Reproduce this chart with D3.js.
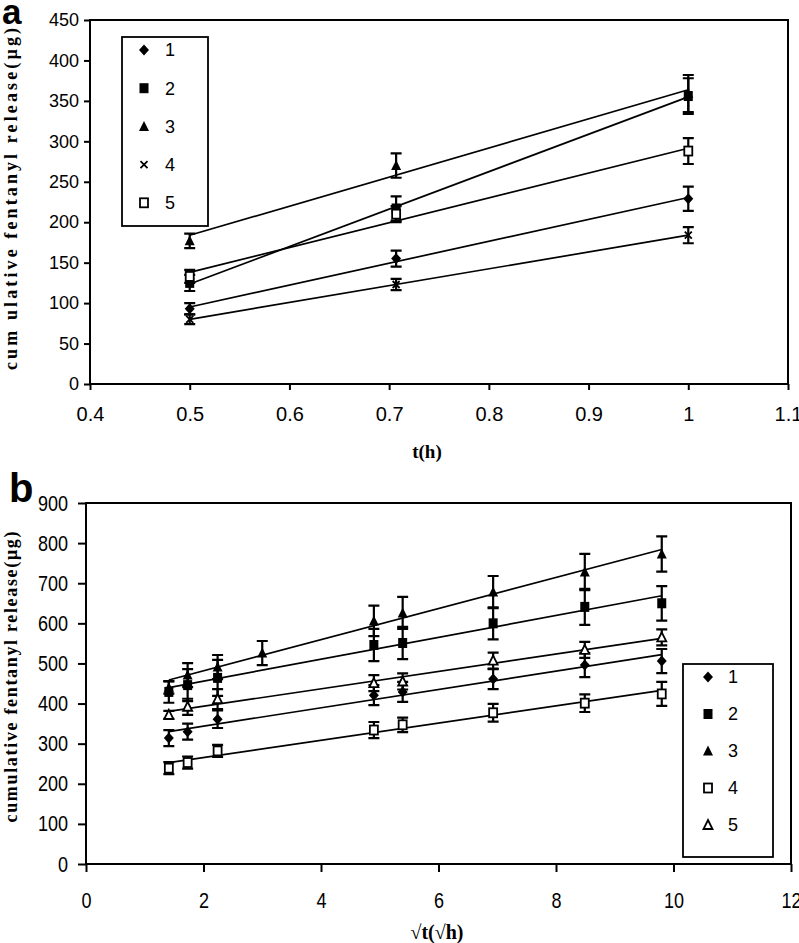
<!DOCTYPE html>
<html><head><meta charset="utf-8">
<script src="https://cdn.jsdelivr.net/npm/d3@7/dist/d3.min.js"></script>
<style>
html,body{margin:0;padding:0;background:#fff;}
svg{display:block;}
</style></head>
<body>
<script>
// ---------- Panel a data ----------
const tA = [0.5, 0.707, 1];
const a1 = [93, 155, 229];   const a1Err = [7, 10, 15];
const a2 = [125, 217, 356];  const a2Err = [10, 15, 22];
const a3 = [177, 270, 359];  const a3Err = [9, 15, 23];
const a4 = [80, 123, 184];   const a4Err = [6, 7, 10];
const a5 = [133, 210, 288];  const a5Err = [8, 10, 16];
const aLabels = ["1", "2", "3", "4", "5"];
const aXTicks = [0.4, 0.5, 0.6, 0.7, 0.8, 0.9, 1, 1.1];
const aXTickLabels = ["0.4", "0.5", "0.6", "0.7", "0.8", "0.9", "1", "1.1"];
const aYTicks = [0, 50, 100, 150, 200, 250, 300, 350, 400, 450];

// ---------- Panel b data ----------
const tB = [1.41, 1.73, 2.24, 3.0, 4.9, 5.39, 6.93, 8.49, 9.8];
const b1 = [314, 330, 361, null, 421, 429, 461, 496, 506];
const b1Err = [20, 20, 22, null, 25, 25, 25, 30, 30];
const b2 = [429, 446, 464, null, 546, 551, 600, 641, 650];
const b2Err = [27, 40, 45, null, 40, 40, 40, 45, 43];
const b3 = [440, 471, 491, 526, 606, 626, 678, 728, 773];
const b3Err = [15, 30, 30, 30, 38, 40, 40, 45, 44];
const b4 = [239, 253, 282, null, 334, 347, 377, 401, 424];
const b4Err = [15, 15, 15, null, 20, 18, 22, 22, 30];
const b5 = [372, 392, 411, null, 451, 455, 507, 534, 565];
const b5Err = [10, 20, 25, null, 20, 20, 20, 20, 20];
const bLabels = ["1", "2", "3", "4", "5"];
const bXTicks = [0, 2, 4, 6, 8, 10, 12];
const bYTicks = [0, 100, 200, 300, 400, 500, 600, 700, 800, 900];

const W = 799, H = 943;
const svg = d3.select("body").append("svg").attr("width", W).attr("height", H);

function marker(g, type, x, y) {
  if (type === "diamond") {
    const s = 5;
    g.append("path").attr("d", `M${x},${y-s-0.5}L${x+s},${y}L${x},${y+s+0.5}L${x-s},${y}Z`).attr("fill", "#000");
  } else if (type === "square") {
    g.append("rect").attr("x", x-4.5).attr("y", y-5).attr("width", 9).attr("height", 10).attr("fill", "#000");
  } else if (type === "triangle") {
    g.append("path").attr("d", `M${x},${y-5.5}L${x+5},${y+4.5}L${x-5},${y+4.5}Z`).attr("fill", "#000");
  } else if (type === "x") {
    g.append("path").attr("d", `M${x-3.5},${y-3.5}L${x+3.5},${y+3.5}M${x-3.5},${y+3.5}L${x+3.5},${y-3.5}`).attr("stroke", "#000").attr("stroke-width", 1.8);
  } else if (type === "osquare") {
    g.append("rect").attr("x", x-4).attr("y", y-4.5).attr("width", 8).attr("height", 9).attr("fill", "#fff").attr("stroke", "#000").attr("stroke-width", 1.8);
  } else if (type === "otriangle") {
    g.append("path").attr("d", `M${x},${y-5}L${x+4.5},${y+4}L${x-4.5},${y+4}Z`).attr("fill", "#fff").attr("stroke", "#000").attr("stroke-width", 1.8);
  }
}

function fit(xs, ys) {
  const pts = xs.map((x, i) => [x, ys[i]]).filter(p => p[1] != null);
  const mx = d3.mean(pts, p => p[0]), my = d3.mean(pts, p => p[1]);
  const sxx = d3.sum(pts, p => (p[0]-mx)*(p[0]-mx));
  const sxy = d3.sum(pts, p => (p[0]-mx)*(p[1]-my));
  const k = sxy / sxx, b = my - k*mx;
  const x0 = d3.min(pts, p => p[0]), x1 = d3.max(pts, p => p[0]);
  return [[x0, k*x0 + b], [x1, k*x1 + b]];
}

function drawPanel(cfg) {
  const g = svg.append("g");
  const { x, y } = cfg;
  const yAxis = d3.axisLeft(y).tickValues(cfg.yTicks).tickSize(cfg.tick).tickPadding(cfg.yPad).tickFormat(d3.format("d"));
  const xAxis = d3.axisBottom(x).tickValues(cfg.xTicks).tickSize(cfg.tick).tickPadding(cfg.xPad).tickFormat((d, i) => cfg.xLabels[i]);
  const ga = g.append("g").attr("transform", `translate(${x.range()[0]},0)`).call(yAxis);
  const gb = g.append("g").attr("transform", `translate(0,${y.range()[0]})`).call(xAxis);
  [ga, gb].forEach(a => {
    a.select(".domain").remove();
    a.selectAll(".tick line").attr("stroke", "#000").attr("stroke-width", 2);
    a.selectAll(".tick text").attr("fill", "#000").style("font-family", cfg.tickFont).style("font-weight", cfg.tickWeight);
  });
  ga.selectAll(".tick text").style("font-size", cfg.yTickSize + "px");
  gb.selectAll(".tick text").style("font-size", cfg.xTickSize + "px");
  if (cfg.squeeze !== 1) {
    const k = cfg.squeeze;
    ga.selectAll(".tick text").attr("x", -(cfg.tick + cfg.yPad) / k).attr("transform", `scale(${k},1)`);
    gb.selectAll(".tick text").attr("transform", `scale(${k},1)`);
  }
  // frame
  g.append("rect").attr("x", x.range()[0]).attr("y", y.range()[1])
    .attr("width", x.range()[1] - x.range()[0]).attr("height", y.range()[0] - y.range()[1])
    .attr("fill", "none").attr("stroke", "#000").attr("stroke-width", 2);
  // trend lines
  cfg.series.forEach(s => {
    const f = fit(cfg.t, s.v);
    g.append("line").attr("x1", x(f[0][0])).attr("y1", y(f[0][1])).attr("x2", x(f[1][0])).attr("y2", y(f[1][1]))
      .attr("stroke", "#000").attr("stroke-width", 1.7);
  });
  // error bars
  cfg.series.forEach(s => {
    cfg.t.forEach((tv, i) => {
      if (s.v[i] == null) return;
      const cx = x(tv), hi = y(s.v[i] + s.e[i]), lo = y(s.v[i] - s.e[i]);
      g.append("path").attr("d", `M${cx},${hi}L${cx},${lo}M${cx-5.5},${hi}L${cx+5.5},${hi}M${cx-5.5},${lo}L${cx+5.5},${lo}`)
        .attr("stroke", "#000").attr("stroke-width", 2.2).attr("fill", "none");
    });
  });
  // markers
  cfg.series.forEach(s => {
    cfg.t.forEach((tv, i) => {
      if (s.v[i] == null) return;
      marker(g, s.m, x(tv), y(s.v[i]));
    });
  });
  // legend
  const L = cfg.legend;
  g.append("rect").attr("x", L.x).attr("y", L.y).attr("width", L.w).attr("height", L.h)
    .attr("fill", "#fff").attr("stroke", "#000").attr("stroke-width", 1.8);
  cfg.series.forEach((s, i) => {
    const yy = L.y0 + i * L.dy;
    marker(g, s.m, L.mx, yy);
    g.append("text").attr("x", L.tx).attr("y", yy).attr("dy", "0.36em").text(cfg.labels[i])
      .style("font-family", "'Liberation Sans', Arial, sans-serif").style("font-size", L.fs + "px");
  });
}

// Panel a
const xA = d3.scaleLinear().domain([0.4, 1.1]).range([90, 788]);
const yA = d3.scaleLinear().domain([0, 450]).range([384, 20]);
drawPanel({
  x: xA, y: yA, t: tA, tick: 6,
  yTicks: aYTicks, xTicks: aXTicks, xLabels: aXTickLabels,
  yPad: 5, xPad: 17, tickFont: "'Liberation Sans', Arial, sans-serif", tickWeight: "normal",
  yTickSize: 18, xTickSize: 20, squeeze: 1,
  series: [
    { v: a1, e: a1Err, m: "diamond" },
    { v: a2, e: a2Err, m: "square" },
    { v: a3, e: a3Err, m: "triangle" },
    { v: a4, e: a4Err, m: "x" },
    { v: a5, e: a5Err, m: "osquare" }
  ],
  labels: aLabels,
  legend: { x: 122, y: 37, w: 86, h: 189, y0: 50, dy: 38.2, mx: 144, tx: 165, fs: 18 }
});

// Panel b
const xB = d3.scaleLinear().domain([0, 12]).range([86, 791]);
const yB = d3.scaleLinear().domain([0, 900]).range([864, 503]);
drawPanel({
  x: xB, y: yB, t: tB, tick: 8,
  yTicks: bYTicks, xTicks: bXTicks, xLabels: bXTicks.map(String),
  yPad: 10, xPad: 20, tickFont: "'Liberation Sans', Arial, sans-serif", tickWeight: "normal",
  yTickSize: 22, xTickSize: 22, squeeze: 0.82,
  series: [
    { v: b1, e: b1Err, m: "diamond" },
    { v: b2, e: b2Err, m: "square" },
    { v: b3, e: b3Err, m: "triangle" },
    { v: b4, e: b4Err, m: "osquare" },
    { v: b5, e: b5Err, m: "otriangle" }
  ],
  labels: bLabels,
  legend: { x: 683, y: 664, w: 90, h: 193, y0: 677, dy: 37, mx: 708, tx: 728, fs: 18 }
});

// Titles
const serif = "'Liberation Serif', 'Times New Roman', serif";
svg.append("text").attr("transform", "translate(17,199) rotate(-90)").attr("text-anchor", "middle")
  .attr("textLength", 342).attr("lengthAdjust", "spacing")
  .style("font-family", serif).style("font-weight", "bold").style("font-size", "18px").text("cum ulative fentanyl release(µg)");
svg.append("text").attr("transform", "translate(17,677) rotate(-90)").attr("text-anchor", "middle")
  .attr("textLength", 291).attr("lengthAdjust", "spacing")
  .style("font-family", serif).style("font-weight", "bold").style("font-size", "18px").text("cumulative fentanyl release(μg)");
svg.append("text").attr("x", 427).attr("y", 458).attr("text-anchor", "middle")
  .style("font-family", serif).style("font-weight", "bold").style("font-size", "19px").text("t(h)");
svg.append("text").attr("x", 437).attr("y", 939).attr("text-anchor", "middle")
  .style("font-family", serif).style("font-weight", "bold").style("font-size", "20px").text("√t(√h)");
svg.append("text").attr("x", 2).attr("y", 24)
  .style("font-family", "'Liberation Sans', Arial, sans-serif").style("font-weight", "bold").style("font-size", "35px").text("a");
svg.append("text").attr("x", 9).attr("y", 502)
  .style("font-family", "'Liberation Sans', Arial, sans-serif").style("font-weight", "bold").style("font-size", "40px").text("b");
</script>
</body></html>
